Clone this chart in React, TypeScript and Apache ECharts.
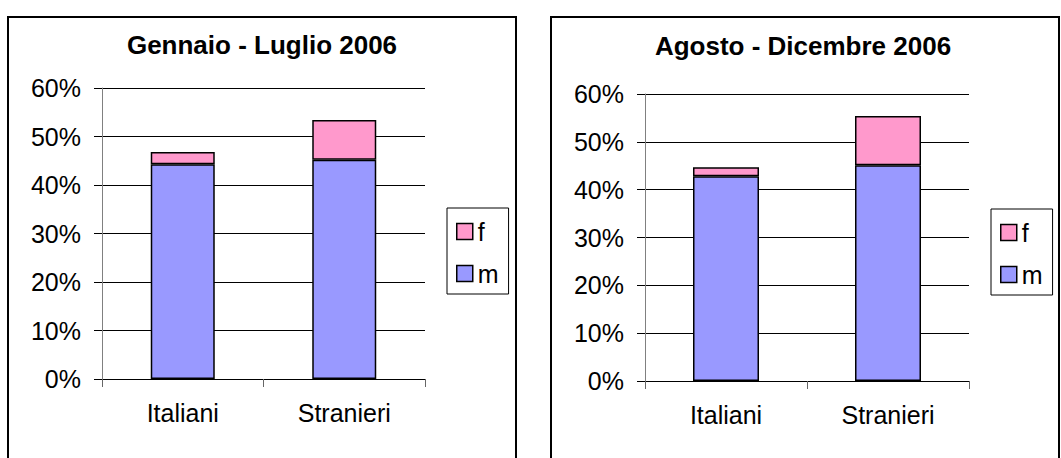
import React, { useEffect, useRef } from "react";
import * as echarts from "echarts";

const categories = ["Italiani", "Stranieri"];
const leftTitle = "Gennaio - Luglio 2006";
const rightTitle = "Agosto - Dicembre 2006";
const leftM = [44.3, 45.2];
const leftF = [2.5, 8.2];
const rightM = [42.8, 45.1];
const rightF = [1.9, 10.3];
const seriesNames = ["f", "m"];

const FONT = "'Liberation Sans', Arial, sans-serif";
const M_COLOR = "#9999FF";
const F_COLOR = "#FF99CC";

export default function App() {
  const ref = useRef<HTMLDivElement>(null);
  useEffect(() => {
    if (!ref.current) return;
    const chart = echarts.init(ref.current, null, { renderer: "svg" });
    const yAxisBase = (gridIndex: number) => ({
      type: "value",
      gridIndex,
      min: 0,
      max: 60,
      interval: 10,
      axisLine: { show: true, lineStyle: { color: "#808080", width: 1 } },
      axisTick: { show: true, length: 8, lineStyle: { color: "#000", width: 1 } },
      axisLabel: {
        formatter: "{value}%",
        color: "#000",
        fontSize: 25,
        fontFamily: FONT,
        margin: 21,
      },
      splitLine: { show: true, lineStyle: { color: "#000", width: 1 } },
    });
    const xAxisBase = (gridIndex: number) => ({
      type: "category",
      gridIndex,
      data: categories,
      boundaryGap: true,
      axisLine: { show: true, lineStyle: { color: "#000", width: 1 } },
      axisTick: { show: true, length: 8, lineStyle: { color: "#666", width: 1 } },
      axisLabel: { color: "#000", fontSize: 25, fontFamily: FONT, margin: 21 },
    });
    const barStyle = (color: string) => ({
      color,
      borderColor: "#000",
      borderWidth: 1.5,
    });
    const legendBase = (left: number, top: number) => ({
      data: seriesNames,
      orient: "vertical",
      left,
      top,
      icon: "rect",
      itemWidth: 16,
      itemHeight: 16,
      itemGap: 17,
      padding: [11, 10, 8, 9],
      borderColor: "#000",
      borderWidth: 1,
      itemStyle: { borderColor: "#000", borderWidth: 1.5 },
      textStyle: { color: "#000", fontSize: 25, fontFamily: FONT, padding: [0, 0, 0, 0] },
    });
    chart.setOption({
      animation: false,
      backgroundColor: "#fff",
      title: [
        {
          text: leftTitle,
          left: 262,
          top: 32,
          textAlign: "center",
          padding: 0,
          textStyle: { fontSize: 26, fontWeight: "bold", color: "#000", fontFamily: FONT },
        },
        {
          text: rightTitle,
          left: 803,
          top: 33,
          textAlign: "center",
          padding: 0,
          textStyle: { fontSize: 26, fontWeight: "bold", color: "#000", fontFamily: FONT },
        },
      ],
      legend: [legendBase(447, 208), legendBase(991, 209)],
      grid: [
        { left: 102, top: 88, width: 323, height: 291, containLabel: false },
        { left: 645, top: 94, width: 324, height: 287, containLabel: false },
      ],
      xAxis: [xAxisBase(0), xAxisBase(1)],
      yAxis: [yAxisBase(0), yAxisBase(1)],
      series: [
        { name: "m", type: "bar", stack: "L", xAxisIndex: 0, yAxisIndex: 0, barWidth: 64, data: leftM, itemStyle: barStyle(M_COLOR) },
        { name: "f", type: "bar", stack: "L", xAxisIndex: 0, yAxisIndex: 0, barWidth: 64, data: leftF, itemStyle: barStyle(F_COLOR) },
        { name: "m", type: "bar", stack: "R", xAxisIndex: 1, yAxisIndex: 1, barWidth: 66, data: rightM, itemStyle: barStyle(M_COLOR) },
        { name: "f", type: "bar", stack: "R", xAxisIndex: 1, yAxisIndex: 1, barWidth: 66, data: rightF, itemStyle: barStyle(F_COLOR) },
      ],
      graphic: [
        {
          type: "rect",
          shape: { x: 8, y: 17, width: 508, height: 470 },
          style: { fill: "none", stroke: "#000", lineWidth: 2 },
          silent: true,
        },
        {
          type: "rect",
          shape: { x: 551, y: 17, width: 508, height: 470 },
          style: { fill: "none", stroke: "#000", lineWidth: 2 },
          silent: true,
        },
      ],
    });
    return () => chart.dispose();
  }, []);
  return (
    <div
      ref={ref}
      style={{ position: "fixed", left: 0, top: 0, width: 1061, height: 458 }}
    />
  );
}
